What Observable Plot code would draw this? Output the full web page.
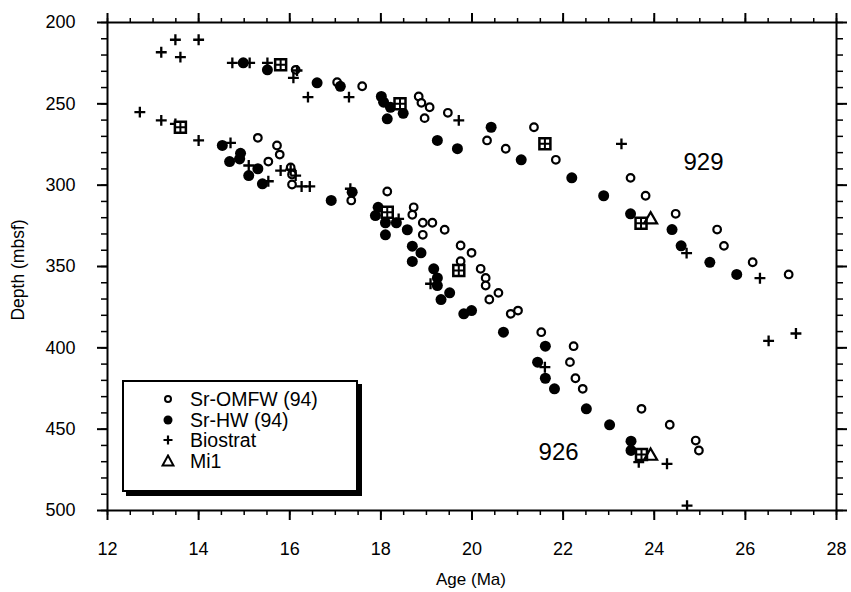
<!DOCTYPE html>
<html><head><meta charset="utf-8">
<script src="https://cdn.jsdelivr.net/npm/d3@7"></script>
<script src="https://cdn.jsdelivr.net/npm/@observablehq/plot@0.6"></script>
<style>
body{margin:0;background:#fff;font-family:"Liberation Sans",Arial,Helvetica,sans-serif;}
#wrap{position:relative;width:851px;height:592px;overflow:hidden;}
#legend{position:absolute;left:122px;top:380px;width:232px;height:108px;border:2px solid #000;background:#fff;box-shadow:4px 4px 0 #000;}
.lrow{position:absolute;left:0;height:20px;display:flex;align-items:center;font-size:19.5px;line-height:20px;}
.lrow svg{margin-left:37px;margin-right:15px;}
#xt{position:absolute;left:0;width:942px;top:570px;text-align:center;font-size:17px;}
#yt{position:absolute;left:18px;top:270px;transform:translate(-50%,-50%) rotate(-90deg);font-size:17.5px;white-space:nowrap;}
</style></head><body><div id="wrap"></div>
<script>
// Sr-OMFW (94): open circles
const omfwAge = [16.13,17.04,17.59,18.83,18.89,19.07,18.96,19.47,20.33,20.74,21.36,21.84,23.48,23.81,24.47,25.38,25.53,26.16,26.95,
 15.30,15.72,15.78,15.53,16.02,16.05,16.05,17.35,18.14,18.72,18.69,18.92,19.13,18.92,19.40,19.75,19.99,19.75,20.19,20.30,20.30,20.58,20.38,20.85,21.01,21.52,22.23,22.15,22.27,22.43,23.72,24.34,24.91,24.98];
const omfwDepth = [229.1,236.7,239.2,245.5,249.4,252.1,258.8,255.5,272.5,277.6,264.4,284.4,295.5,306.5,317.6,327.3,337.3,347.4,354.9,
 270.9,275.6,281.2,285.5,289.1,293.4,299.6,309.4,303.9,313.6,318.2,323.1,323.1,330.5,327.4,337.1,341.6,346.7,351.4,357.0,361.7,366.2,370.3,379.1,377.1,390.4,399.0,408.8,418.7,425.2,437.5,447.3,457.0,463.1];
// Sr-HW (94): filled circles
const hwAge = [14.98,15.51,16.60,17.11,18.01,18.06,18.21,18.49,18.14,19.24,19.68,20.42,21.08,22.19,22.89,23.48,24.39,24.59,25.22,25.81,
 14.52,14.92,14.90,14.68,15.30,15.10,15.40,16.91,17.37,17.94,17.88,18.10,18.34,18.10,18.58,18.69,18.88,18.69,19.16,19.24,19.24,19.51,19.32,19.82,19.99,20.69,21.44,21.61,21.61,21.81,22.51,23.02,23.49,23.49];
const hwDepth = [224.8,229.1,237.1,239.2,245.5,249.0,252.1,255.8,259.2,272.5,277.6,264.4,284.4,295.5,306.5,317.6,327.3,337.3,347.4,354.9,
 275.6,280.4,283.8,285.5,289.9,294.1,299.2,309.4,304.3,313.6,318.7,323.1,323.1,330.5,327.4,337.5,341.6,346.9,351.4,357.0,361.7,366.2,370.3,379.1,377.1,390.4,408.8,399.0,418.7,425.2,437.5,447.3,457.4,463.1];
// Biostrat: plus
const bioAge = [13.49,14.00,13.18,13.60,14.74,15.12,15.51,16.16,16.08,16.40,17.30,19.71,23.28,24.71,26.32,26.51,27.11,
 12.71,13.18,13.49,14.00,14.70,14.90,15.10,15.53,15.80,16.02,16.13,16.26,16.44,17.33,18.39,19.09,21.60,23.66,24.28,24.72];
const bioDepth = [210.6,210.6,218.3,221.3,224.8,224.8,224.8,229.5,234.0,245.9,245.9,260.2,274.6,341.8,357.2,395.7,391.2,
 255.1,260.2,262.3,272.5,274.0,283.8,287.9,297.6,291.0,290.4,294.1,300.8,300.8,302.2,320.7,360.6,411.9,470.3,471.3,497.0];
// boxed-plus markers
const boxAge = [15.80,18.42,21.60,23.71,13.60,18.14,19.71,23.72];
const boxDepth = [226.0,250.0,274.6,323.4,264.4,316.6,352.5,465.6];
// Mi1: open triangles
const mi1Age = [23.92,23.92];
const mi1Depth = [321.2,466.5];
// site labels
const siteNames = ["929","926"];
const siteAge = [25.08,21.90];
const siteDepth = [286.1,464.4];
// ticks
const xMajor = [12,14,16,18,20,22,24,26,28];
const xMinor = d3.range(12,28.01,0.5);
const yMajor = [200,250,300,350,400,450,500];
const yMinor = d3.range(200,500.1,10);
const legendNames = ["Sr-OMFW (94)","Sr-HW (94)","Biostrat","Mi1"];

const rows = (a,d)=>a.map((v,i)=>({age:v,depth:d[i]}));
const omfw = rows(omfwAge,omfwDepth), hw = rows(hwAge,hwDepth), bio = rows(bioAge,bioDepth),
      box = rows(boxAge,boxDepth), mi1 = rows(mi1Age,mi1Depth);
const sites = siteNames.map((n,i)=>({name:n,age:siteAge[i],depth:siteDepth[i]}));
const blank = ()=>"";
const chart = Plot.plot({
  width:851,height:592,marginLeft:107,marginRight:15,marginTop:22,marginBottom:82,
  style:{fontFamily:"Liberation Sans, Arial, Helvetica, sans-serif",color:"#000",background:"#fff",overflow:"visible"},
  x:{domain:[12,28]},
  y:{domain:[200,500],reverse:true},
  marks:[
    Plot.axisX(xMinor,{anchor:"bottom",tickSize:5,tickFormat:blank,strokeWidth:1.5,label:null}),
    Plot.axisX(xMajor,{anchor:"bottom",tickSize:10,tickPadding:22,strokeWidth:2,fontSize:18,label:null}),
    Plot.axisX(xMinor,{anchor:"top",tickSize:5,tickFormat:blank,strokeWidth:1.5,label:null}),
    Plot.axisX(xMajor,{anchor:"top",tickSize:10,tickFormat:blank,strokeWidth:2,label:null}),
    Plot.axisY(yMinor,{anchor:"left",tickSize:6,tickFormat:blank,strokeWidth:1.5,label:null}),
    Plot.axisY(yMajor,{anchor:"left",tickSize:10,tickPadding:22,strokeWidth:2,fontSize:18,label:null}),
    Plot.axisY(yMinor,{anchor:"right",tickSize:6,tickFormat:blank,strokeWidth:1.5,label:null}),
    Plot.axisY(yMajor,{anchor:"right",tickSize:10,tickFormat:blank,strokeWidth:2,label:null}),
    Plot.frame({stroke:"#000",strokeWidth:2}),
    Plot.dot(omfw,{x:"age",y:"depth",r:3.8,fill:"#fff",stroke:"#000",strokeWidth:2.2}),
    Plot.dot(hw,{x:"age",y:"depth",r:5.5,fill:"#000",stroke:"none"}),
    Plot.dot(bio,{x:"age",y:"depth",symbol:"plus",r:3.6,stroke:"#000",strokeWidth:2.3}),
    Plot.dot(box,{x:"age",y:"depth",symbol:"square",r:6.2,fill:"#fff",stroke:"#000",strokeWidth:2.5}),
    Plot.dot(box,{x:"age",y:"depth",symbol:"plus",r:3.6,stroke:"#000",strokeWidth:2}),
    Plot.dot(mi1,{x:"age",y:"depth",symbol:"triangle2",r:6.2,fill:"none",stroke:"#000",strokeWidth:2.2}),
    Plot.text(sites,{x:"age",y:"depth",text:"name",fontSize:24,fill:"#000"})
  ]
});
const wrap = document.getElementById("wrap");
wrap.appendChild(chart);

// legend
const leg = document.createElement("div"); leg.id="legend";
const legSyms = [
  '<circle cx="7" cy="7" r="3" fill="#fff" stroke="#000" stroke-width="2"/>',
  '<circle cx="7" cy="7" r="4.5" fill="#000"/>',
  '<path d="M2.5,7H11.5M7,2.5V11.5" stroke="#000" stroke-width="2.2"/>',
  '<path d="M7,1.5L12.5,11.5H1.5Z" fill="none" stroke="#000" stroke-width="2"/>'
];
legendNames.forEach((n,i)=>{
  const r = document.createElement("div"); r.className="lrow";
  r.style.top = (7+i*20.5)+"px";
  r.innerHTML = `<svg width="14" height="14">${legSyms[i]}</svg><span>${n}</span>`;
  leg.appendChild(r);
});
wrap.appendChild(leg);
const xt=document.createElement("div"); xt.id="xt"; xt.textContent="Age (Ma)"; wrap.appendChild(xt);
const yt=document.createElement("div"); yt.id="yt"; yt.textContent="Depth (mbsf)"; wrap.appendChild(yt);
</script></body></html>
